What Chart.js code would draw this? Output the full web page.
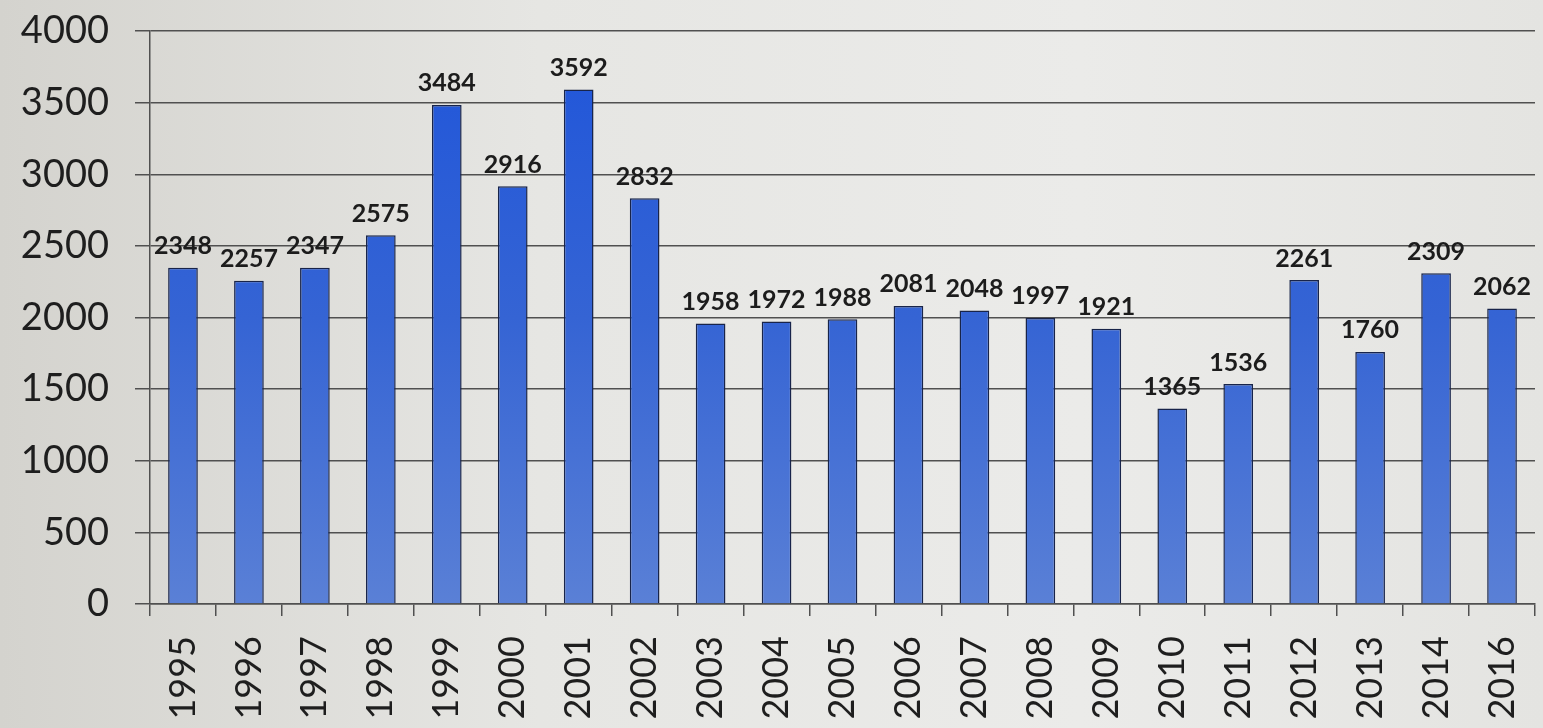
<!DOCTYPE html>
<html>
<head>
<meta charset="utf-8">
<script src="https://cdn.jsdelivr.net/npm/chart.js@4"></script>
<style>
  html, body { margin: 0; padding: 0; }
  body {
    width: 1543px; height: 728px; overflow: hidden;
    background: linear-gradient(to right, #d4d3ce 0%, #e6e6e3 35%, #ebebe9 70%, #e4e4e1 100%);
  }
  #wrap { width: 1543px; height: 728px; }
</style>
</head>
<body>
<div id="wrap"><canvas id="chart"></canvas></div>
<script>
// years and counts (there is no 2015 column in it)
const years = ['1995','1996','1997','1998','1999','2000','2001','2002','2003','2004','2005',
               '2006','2007','2008','2009','2010','2011','2012','2013','2014','2016'];
const counts = [2348, 2257, 2347, 2575, 3484, 2916, 3592, 2832, 1958, 1972, 1988,
                2081, 2048, 1997, 1921, 1365, 1536, 2261, 1760, 2309, 2062];
const yTicks = [0, 500, 1000, 1500, 2000, 2500, 3000, 3500, 4000];

// draw value labels above the bars
const valueLabels = {
    id: 'valueLabels',
    afterDatasetsDraw(chart) {
        const ctx = chart.ctx;
        const meta = chart.getDatasetMeta(0);
        ctx.save();
        ctx.font = 'bold 25px Lato';
        ctx.fillStyle = '#1c1c1c';
        ctx.textAlign = 'center';
        ctx.textBaseline = 'bottom';
        meta.data.forEach((bar, i) => {
            ctx.fillText(chart.data.datasets[0].data[i], bar.x, bar.y - 9);
        });
        ctx.restore();
    }
};

function barFill(context) {
    const area = context.chart.chartArea;
    if (!area) return '#3563d4';
    const g = context.chart.ctx.createLinearGradient(0, area.top, 0, area.bottom);
    g.addColorStop(0, '#1f55da');
    g.addColorStop(0.5, '#3564d4');
    g.addColorStop(1, '#5a80d6');
    return g;
}

new Chart(document.getElementById('chart'), {
    type: 'bar',
    data: {
        labels: years,
        datasets: [{
            data: counts,
            backgroundColor: barFill,
            borderColor: '#18244a',
            borderWidth: 1.5,
            barPercentage: 0.45,
            categoryPercentage: 1
        }]
    },
    options: {
        responsive: true,
        maintainAspectRatio: false,
        animation: false,
        layout: { padding: { left: 20, right: 8, top: 31, bottom: 0 } },
        plugins: { legend: { display: false }, tooltip: { enabled: false } },
        scales: {
            y: {
                min: 0,
                max: 4000,
                afterBuildTicks: axis => { axis.ticks = yTicks.map(v => ({ value: v })); },
                afterFit: axis => {
                    axis.width = 130;
                    axis.paddingTop = 0;
                    axis.paddingBottom = 0;
                },
                ticks: {
                    font: { family: 'Lato', size: 38 },
                    color: '#1e1e1e',
                    padding: 26,
                    callback: v => String(v)
                },
                grid: { color: '#505050', lineWidth: 1.5, tickLength: 15 },
                border: { color: '#505050', width: 1.5 }
            },
            x: {
                afterFit: axis => {
                    axis.height = 124;
                    axis.paddingLeft = 0;
                    axis.paddingRight = 0;
                },
                ticks: {
                    font: { family: 'Lato', size: 36 },
                    color: '#1e1e1e',
                    maxRotation: 90,
                    minRotation: 90,
                    padding: 20
                },
                grid: { drawOnChartArea: false, color: '#505050', lineWidth: 1.5, tickLength: 12 },
                border: { color: '#505050', width: 1.5 }
            }
        }
    },
    plugins: [valueLabels]
});
</script>
</body>
</html>
